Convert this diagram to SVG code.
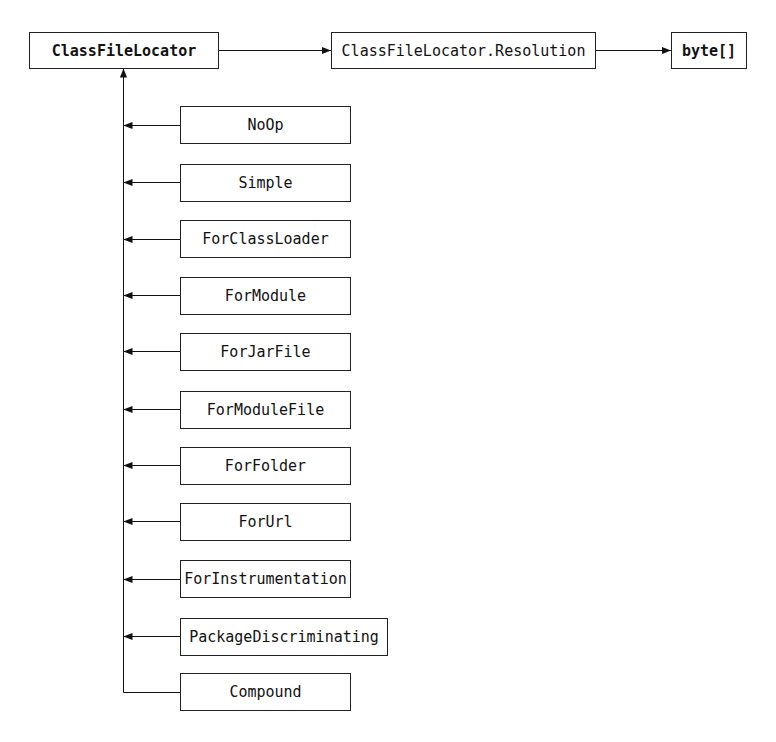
<svg xmlns="http://www.w3.org/2000/svg" width="776" height="742" viewBox="0 0 776 742">
<style>
.box{fill:#fff;stroke:#222;stroke-width:1}
.t{font-family:"DejaVu Sans Mono","Liberation Mono",monospace;font-size:15px;fill:#111;text-anchor:middle;dominant-baseline:central}
.b{font-weight:bold}
.ln{stroke:#111;stroke-width:1;fill:none}
</style>
<defs>
<marker id="ah" viewBox="0 0 10 10" refX="10" refY="5" markerWidth="9" markerHeight="9" markerUnits="userSpaceOnUse" orient="auto">
<path d="M0,1 L10,5 L0,9 Z" fill="#111"/>
</marker>
</defs>
<rect width="776" height="742" fill="#fff"/>
<g id="connectors">
<line class="ln" x1="218.5" y1="50.5" x2="331" y2="50.5" marker-end="url(#ah)"/>
<line class="ln" x1="595.5" y1="50.5" x2="671" y2="50.5" marker-end="url(#ah)"/>
<path class="ln" d="M180.5,692.5 H123.5 V68.5" marker-end="url(#ah)"/>
<line class="ln" x1="180.5" y1="125.5" x2="123.5" y2="125.5" marker-end="url(#ah)"/>
<line class="ln" x1="180.5" y1="182.5" x2="123.5" y2="182.5" marker-end="url(#ah)"/>
<line class="ln" x1="180.5" y1="239.5" x2="123.5" y2="239.5" marker-end="url(#ah)"/>
<line class="ln" x1="180.5" y1="295.5" x2="123.5" y2="295.5" marker-end="url(#ah)"/>
<line class="ln" x1="180.5" y1="351.5" x2="123.5" y2="351.5" marker-end="url(#ah)"/>
<line class="ln" x1="180.5" y1="409.5" x2="123.5" y2="409.5" marker-end="url(#ah)"/>
<line class="ln" x1="180.5" y1="465.5" x2="123.5" y2="465.5" marker-end="url(#ah)"/>
<line class="ln" x1="180.5" y1="521.5" x2="123.5" y2="521.5" marker-end="url(#ah)"/>
<line class="ln" x1="180.5" y1="579.5" x2="123.5" y2="579.5" marker-end="url(#ah)"/>
<line class="ln" x1="180.5" y1="636.5" x2="123.5" y2="636.5" marker-end="url(#ah)"/>
</g>
<g id="ClassFileLocator"><rect class="box" x="29.5" y="32.5" width="189" height="36"/><text class="t b" x="124" y="50.5">ClassFileLocator</text></g>
<g id="Resolution"><rect class="box" x="331.5" y="32.5" width="264" height="36"/><text class="t" x="463.5" y="50.5">ClassFileLocator.Resolution</text></g>
<g id="byte"><rect class="box" x="671.5" y="32.5" width="75" height="36"/><text class="t b" x="709" y="50.5">byte[]</text></g>
<g id="NoOp"><rect class="box" x="180.5" y="106.5" width="170" height="37"/><text class="t" x="265.5" y="125">NoOp</text></g>
<g id="Simple"><rect class="box" x="180.5" y="164.5" width="170" height="37"/><text class="t" x="265.5" y="183">Simple</text></g>
<g id="ForClassLoader"><rect class="box" x="180.5" y="220.5" width="170" height="37"/><text class="t" x="265.5" y="239">ForClassLoader</text></g>
<g id="ForModule"><rect class="box" x="180.5" y="277.5" width="170" height="37"/><text class="t" x="265.5" y="296">ForModule</text></g>
<g id="ForJarFile"><rect class="box" x="180.5" y="333.5" width="170" height="37"/><text class="t" x="265.5" y="352">ForJarFile</text></g>
<g id="ForModuleFile"><rect class="box" x="180.5" y="391.5" width="170" height="37"/><text class="t" x="265.5" y="410">ForModuleFile</text></g>
<g id="ForFolder"><rect class="box" x="180.5" y="447.5" width="170" height="37"/><text class="t" x="265.5" y="466">ForFolder</text></g>
<g id="ForUrl"><rect class="box" x="180.5" y="503.5" width="170" height="37"/><text class="t" x="265.5" y="522">ForUrl</text></g>
<g id="ForInstrumentation"><rect class="box" x="180.5" y="560.5" width="170" height="37"/><text class="t" x="265.5" y="579">ForInstrumentation</text></g>
<g id="PackageDiscriminating"><rect class="box" x="180.5" y="618.5" width="207" height="37"/><text class="t" x="284" y="637">PackageDiscriminating</text></g>
<g id="Compound"><rect class="box" x="180.5" y="673.5" width="170" height="37"/><text class="t" x="265.5" y="692">Compound</text></g>
</svg>
